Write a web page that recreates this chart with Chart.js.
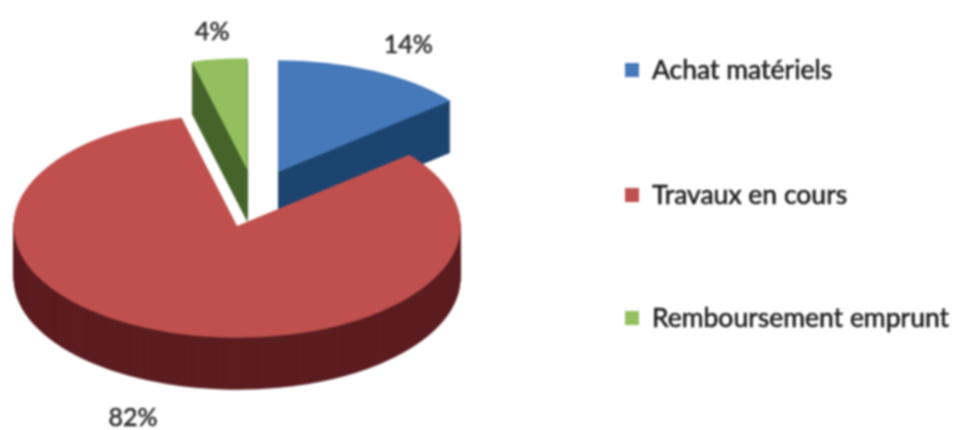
<!DOCTYPE html>
<html><head><meta charset="utf-8">
<style>html,body{margin:0;padding:0;background:#fff}#w{width:955px;height:430px}canvas{filter:blur(0.8px)}</style>
<script src="https://cdn.jsdelivr.net/npm/chart.js@4"></script></head>
<body><div id="w"><canvas id="c" width="955" height="430"></canvas></div>
<script>
const categories = ['Achat matériels', 'Travaux en cours', 'Remboursement emprunt'];
const shares = [14, 82, 4];
const percentLabels = ['14%', '82%', '4%'];
const topColors = ['#4679b9', '#bf504e', '#93bf5e'];
const sideColors = ['#1d4570', '#5c1d21', '#46642b'];

const TILT = 0.5, DEPTH = 52;
const explode = [45, 71, 45];
const nudgeX = [0, 0, -6];
const labelShift = [[130, -127], [-104, 192], [-35, -138]];
const drawOrder = [2, 0, 1];
const legendBox = { x: 625, size: 14, textX: 652, rows: [70, 195, 318] };

function arcPos(el, i) {
  const mid = (el.startAngle + el.endAngle) / 2;
  return {
    x: Math.cos(mid) * explode[i] + nudgeX[i],
    y: Math.sin(mid) * explode[i]
  };
}
function heavyText(ctx, t, x, y) {
  ctx.lineWidth = 0.6;
  ctx.strokeStyle = ctx.fillStyle;
  ctx.strokeText(t, x, y);
  ctx.fillText(t, x, y);
}
const pie3d = {
  id: 'pie3d',
  beforeDatasetDraw(chart, args) {
    const ctx = chart.ctx, arcs = args.meta.data;
    const cy = arcs[0].y;
    drawOrder.forEach(i => {
      const el = arcs[i], p = arcPos(el, i), saved = el.options;
      const paint = d => {
        ctx.save();
        ctx.translate(p.x, d);
        ctx.translate(0, cy);
        ctx.scale(1, TILT);
        ctx.translate(0, -cy);
        ctx.translate(0, p.y);
        el.draw(ctx);
        ctx.restore();
      };
      el.options = new Proxy(saved, { get: (t, k) => k === 'backgroundColor' ? sideColors[i] : t[k] });
      for (let d = DEPTH; d > 0; d--) paint(d);
      el.options = saved;
      paint(0);
    });
    return false;
  },
  afterDraw(chart) {
    const ctx = chart.ctx, arcs = chart.getDatasetMeta(0).data;
    ctx.save();
    ctx.textBaseline = 'middle';
    ctx.font = '25px Lato';
    ctx.fillStyle = '#2e2e2e';
    ctx.textAlign = 'center';
    arcs.forEach((el, i) => {
      const p = arcPos(el, i);
      heavyText(ctx, percentLabels[i], el.x + p.x + labelShift[i][0], el.y + p.y * TILT + labelShift[i][1]);
    });
    ctx.textAlign = 'left';
    ctx.font = '26.5px Lato';
    categories.forEach((t, i) => {
      const y = legendBox.rows[i];
      ctx.fillStyle = topColors[i];
      ctx.fillRect(legendBox.x, y - legendBox.size / 2, legendBox.size, legendBox.size);
      ctx.fillStyle = '#1c1c1c';
      heavyText(ctx, t, legendBox.textX, y);
    });
    ctx.restore();
  }
};
new Chart(document.getElementById('c'), {
  type: 'pie',
  data: {
    labels: categories,
    datasets: [{ data: shares, backgroundColor: topColors, borderWidth: 0, clip: false }]
  },
  plugins: [pie3d],
  options: {
    responsive: false,
    animation: false,
    radius: 223.5,
    layout: { padding: { right: 437, bottom: 45.4 } },
    plugins: { tooltip: { enabled: false }, legend: { display: false } }
  }
});
</script></body></html>
